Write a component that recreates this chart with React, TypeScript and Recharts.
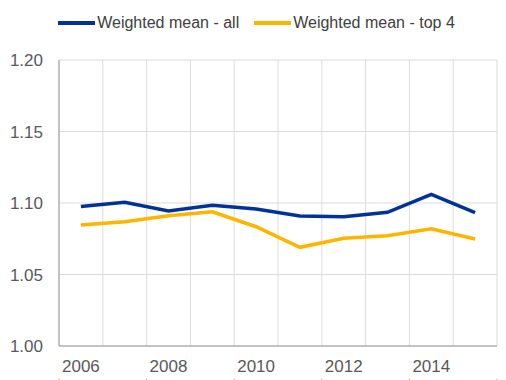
import React from "react";
import {
  LineChart,
  Line,
  XAxis,
  YAxis,
  CartesianGrid,
  Legend,
} from "recharts";

const years = [2006, 2007, 2008, 2009, 2010, 2011, 2012, 2013, 2014, 2015];
const weightedAll = [1.0975, 1.1005, 1.0945, 1.0985, 1.0958, 1.0909, 1.0904, 1.0935, 1.1061, 1.0932];
const weightedTop4 = [1.0846, 1.0869, 1.0911, 1.0939, 1.0834, 1.069, 1.0753, 1.0771, 1.082, 1.0748];
const seriesNames = ["Weighted mean - all", "Weighted mean - top 4"];
const yTicks = [1.0, 1.05, 1.1, 1.15, 1.2];
const xLabelTicks = [2006, 2008, 2010, 2012, 2014];
const xDomain: [number, number] = [2005.5, 2015.5];
const boundaryTicks = [2005.5, 2006.5, 2007.5, 2008.5, 2009.5, 2010.5, 2011.5, 2012.5, 2013.5, 2014.5, 2015.5];
const markTicks = [2005.5, 2007.5, 2009.5, 2011.5, 2013.5, 2015.5];

const data = years.map((y, i) => ({ year: y, all: weightedAll[i], top4: weightedTop4[i] }));

const BLUE = "#003299";
const YELLOW = "#FFB400";
const FONT = "'Liberation Sans', Arial, sans-serif";

const gridX = (p: any) => {
  const s = p && p.xAxis && p.xAxis.scale;
  if (typeof s === "function") return boundaryTicks.map((t) => s(t));
  if (s && typeof s.map === "function") return boundaryTicks.map((t) => s.map(t));
  const o = p.offset;
  return boundaryTicks.map((t) => o.left + ((t - xDomain[0]) / (xDomain[1] - xDomain[0])) * o.width);
};

const LegendContent = (props: any) => {
  const payload = props.payload || [];
  return (
    <div
      style={{
        display: "flex",
        justifyContent: "center",
        alignItems: "center",
        height: 26,
        paddingLeft: 16,
        fontFamily: FONT,
        fontSize: 16,
        color: "#404040",
      }}
    >
      {payload.map((p: any, i: number) => (
        <div key={i} style={{ display: "flex", alignItems: "center", marginRight: i === 0 ? 15 : 0 }}>
          <span style={{ display: "inline-block", width: 37, height: 4, background: p.color, marginRight: 2 }} />
          <span>{p.value}</span>
        </div>
      ))}
    </div>
  );
};

export default function App() {
  return (
    <div style={{ position: "absolute", left: 0, top: 0, width: 506, height: 380, background: "#fff" }}>
      <LineChart width={506} height={380} data={data} margin={{ top: 24, right: 9, bottom: 0, left: 0 }}>
        <XAxis
          xAxisId="marks"
          type="number"
          dataKey="year"
          domain={xDomain}
          ticks={markTicks}
          height={1}
          axisLine={false}
          tickSize={5}
          tickLine={{ stroke: "#999" }}
          tickFormatter={() => ""}
        />
        <XAxis
          xAxisId="main"
          type="number"
          dataKey="year"
          domain={xDomain}
          ticks={xLabelTicks}
          height={33}
          tickLine={false}
          tickSize={0}
          tickMargin={14}
          axisLine={{ stroke: "#999" }}
          tick={{ fill: "#595959", fontSize: 17, fontFamily: FONT }}
          interval={0}
        />
        <YAxis
          type="number"
          domain={[1.0, 1.2]}
          ticks={yTicks}
          width={59}
          tickLine={false}
          tickSize={0}
          tickMargin={16}
          axisLine={{ stroke: "#999" }}
          tick={{ fill: "#595959", fontSize: 17, fontFamily: FONT }}
          tickFormatter={(v: number) => v.toFixed(2)}
          interval={0}
        />
        <CartesianGrid xAxisId="main" stroke="#dcdcdc" verticalCoordinatesGenerator={gridX} />
        <Legend verticalAlign="top" height={36} wrapperStyle={{ top: 10 }} content={<LegendContent />} />
        <Line
          xAxisId="main"
          dataKey="all"
          name={seriesNames[0]}
          stroke={BLUE}
          strokeWidth={3.5}
          dot={false}
          isAnimationActive={false}
        />
        <Line
          xAxisId="main"
          dataKey="top4"
          name={seriesNames[1]}
          stroke={YELLOW}
          strokeWidth={3.5}
          dot={false}
          isAnimationActive={false}
        />
      </LineChart>
    </div>
  );
}
